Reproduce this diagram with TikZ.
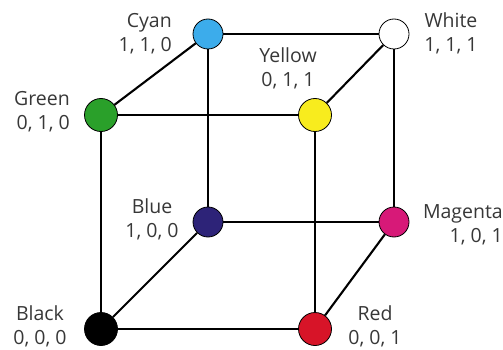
\documentclass[tikz,border=0pt]{standalone}
\usepackage{fontspec}
\setmainfont{Open Sans}
\definecolor{cubeCyan}{RGB}{60,172,235}
\definecolor{cubeGreen}{RGB}{42,160,42}
\definecolor{cubeYellow}{RGB}{248,236,30}
\definecolor{cubeBlue}{RGB}{45,35,120}
\definecolor{cubeMagenta}{RGB}{215,25,120}
\definecolor{cubeRed}{RGB}{215,20,40}
\definecolor{labelGray}{RGB}{55,55,55}

\begin{document}
\begin{tikzpicture}[x=1pt,y=-1pt,
  corner/.style={draw,line width=0.8pt,circle,inner sep=0pt,minimum size=30pt},
  front/.style={corner,minimum size=33pt},
  cubeedge/.style={line width=2.1pt},
  lbl/.style={text=labelGray,inner sep=0pt,font=\fontsize{19.5}{24}\selectfont}]
  \useasboundingbox (0,0) rectangle (503,350);

  % back face
  \node[corner,fill=cubeCyan]    (cyan)    at (208,34)  {};
  \node[corner,fill=white]       (white)   at (394,34)  {};
  \node[corner,fill=cubeBlue]    (blue)    at (208,222) {};
  \node[corner,fill=cubeMagenta] (magenta) at (394,222) {};

  % front face
  \node[front,fill=cubeGreen]  (green)  at (101,115) {};
  \node[front,fill=cubeYellow] (yellow) at (315,115) {};
  \node[front,fill=black]      (black)  at (101,329) {};
  \node[front,fill=cubeRed]    (red)    at (315,329) {};

  \draw[cubeedge] (cyan) -- (white);
  \draw[cubeedge] (cyan) -- (blue);
  \draw[cubeedge] (white) -- (magenta);
  \draw[cubeedge] (blue) -- (magenta);
  \draw[cubeedge] (green) -- (yellow);
  \draw[cubeedge] (green) -- (black);
  \draw[cubeedge] (yellow) -- (red);
  \draw[cubeedge] (black) -- (red);
  \draw[cubeedge] (green) -- (cyan);
  \draw[cubeedge] (yellow) -- (white);
  \draw[cubeedge] (black) -- (blue);
  \draw[cubeedge] (red) -- (magenta);

  % labels
  \node[lbl,anchor=east,align=right] (cyanLbl)    at (172,34)    {Cyan\\1, 1, 0};
  \node[lbl,align=center]            (whiteLbl)   at (451,33)    {White\\1, 1, 1};
  \node[lbl,anchor=east,align=right] (greenLbl)   at (70,112)    {Green\\0, 1, 0};
  \node[lbl,align=center]            (yellowLbl)  at (288,68.5)  {Yellow\\0, 1, 1};
  \node[lbl,align=center]            (blueLbl)    at (152,219)   {Blue\\1, 0, 0};
  \node[lbl,anchor=east,align=right] (magentaLbl) at (503,224.5) {Magenta\\1, 0, 1};
  \node[lbl,align=center]            (blackLbl)   at (40,326.5)  {Black\\0, 0, 0};
  \node[lbl,align=center]            (redLbl)     at (375,326.5) {Red\\0, 0, 1};
\end{tikzpicture}
\end{document}
